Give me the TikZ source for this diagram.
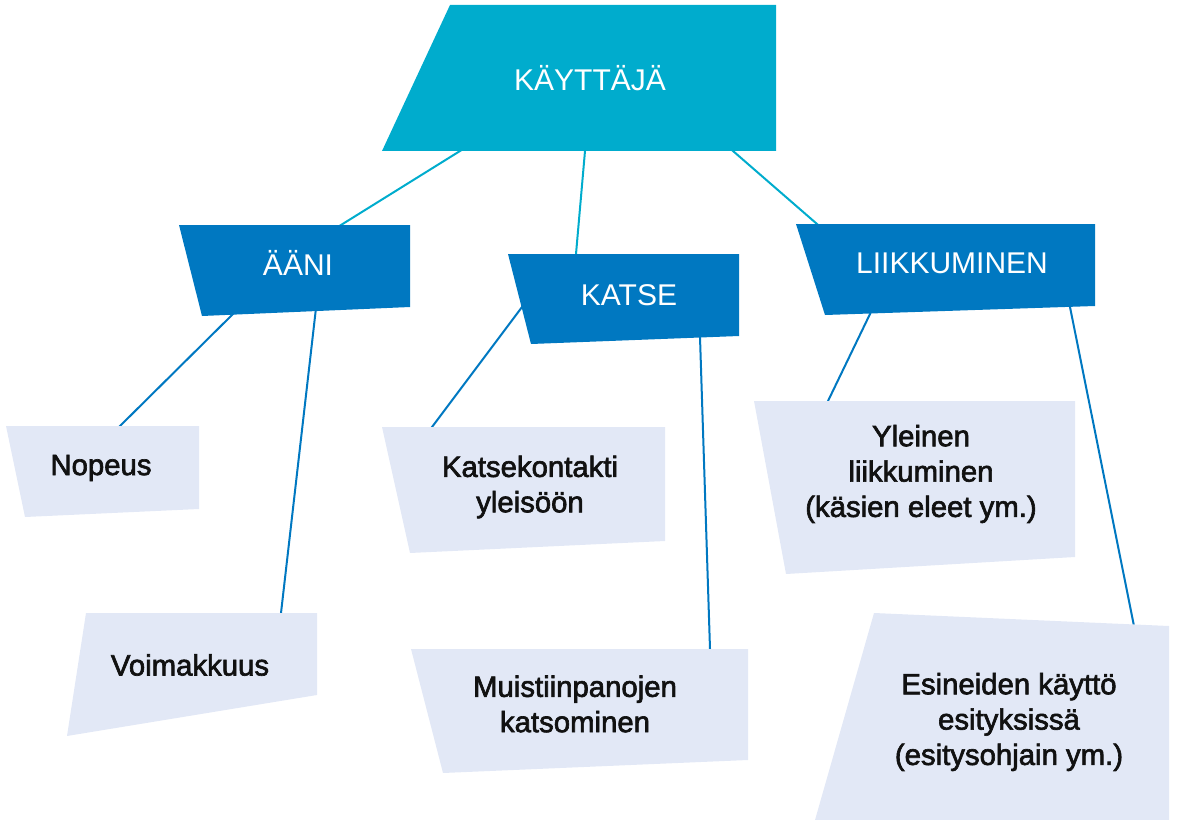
\documentclass[tikz,border=0pt]{standalone}
\usepackage{fontspec}
\setmainfont{Liberation Sans}
\newfontfamily\leaffont{Liberation Sans}[FakeBold=2.2]
\definecolor{topcyan}{HTML}{00ACCD}
\definecolor{midblue}{HTML}{0078C1}
\definecolor{leafbg}{HTML}{E2E8F6}
\definecolor{leafink}{HTML}{111111}
\tikzset{
  headtext/.style={text=white, font=\fontsize{22.5}{26}\selectfont, anchor=base, inner sep=0pt},
  leaftext/.style={text=leafink, font=\leaffont\fontsize{22}{26.5}\selectfont, align=center, inner sep=0pt},
  upperlink/.style={draw=topcyan, line width=1.5pt, shorten <=-2pt, shorten >=-2pt},
  lowerlink/.style={draw=midblue, line width=1.5pt, shorten <=-2pt, shorten >=-2pt},
}
\begin{document}
\begin{tikzpicture}[x=0.75pt,y=-0.75pt]
\useasboundingbox (0,0) rectangle (1178,820);

% connector end points on the box borders
\coordinate (kay-s1) at (460,151);  \coordinate (aan-n) at (341,225);
\coordinate (kay-s2) at (585,151);  \coordinate (kat-n) at (576,254);
\coordinate (kay-s3) at (733,151);  \coordinate (lii-n) at (817,224);
\coordinate (aan-s1) at (234,313);  \coordinate (nop-n) at (120,426);
\coordinate (aan-s2) at (316,308);  \coordinate (voi-n) at (281,613);
\coordinate (kat-s1) at (522,307);  \coordinate (kon-n) at (432,427);
\coordinate (kat-s2) at (700,337);  \coordinate (mui-n) at (710,649);
\coordinate (lii-s1) at (870,314);  \coordinate (yle-n) at (828,401);
\coordinate (lii-s2) at (1070,307); \coordinate (esi-n) at (1134,626);

% connectors
\draw[upperlink] (kay-s1) -- (aan-n);
\draw[upperlink] (kay-s2) -- (kat-n);
\draw[upperlink] (kay-s3) -- (lii-n);
\draw[lowerlink] (aan-s1) -- (nop-n);
\draw[lowerlink] (aan-s2) -- (voi-n);
\draw[lowerlink] (kat-s1) -- (kon-n);
\draw[lowerlink] (kat-s2) -- (mui-n);
\draw[lowerlink] (lii-s1) -- (yle-n);
\draw[lowerlink] (lii-s2) -- (esi-n);

% boxes
\fill[topcyan] (450,5) -- (776,5) -- (776,151) -- (382,151) -- cycle;
\fill[midblue] (179,225) -- (410,225) -- (410,307) -- (202,316) -- cycle;
\fill[midblue] (508,254) -- (739,254) -- (739,336) -- (531,344) -- cycle;
\fill[midblue] (796,224) -- (1095,224) -- (1095,306) -- (825,315) -- cycle;
\fill[leafbg] (6,426) -- (199,426) -- (199,509) -- (25,517) -- cycle;
\fill[leafbg] (86,613) -- (317,613) -- (317,695) -- (67,736) -- cycle;
\fill[leafbg] (382,427) -- (665,427) -- (665,541) -- (410,553) -- cycle;
\fill[leafbg] (411,649) -- (748,649) -- (748,760) -- (443,773) -- cycle;
\fill[leafbg] (754,401) -- (1075,401) -- (1075,557) -- (786,574) -- cycle;
\fill[leafbg] (874,613) -- (1169,626) -- (1169,820) -- (815,820) -- cycle;

% labels
\node[headtext] (kay) at (590,91) {KÄYTTÄJÄ};
\node[headtext] (aan) at (298,275) {ÄÄNI};
\node[headtext] (kat) at (629,305) {KATSE};
\node[headtext] (lii) at (952,273) {LIIKKUMINEN};
\node[leaftext] (nop) at (101,468) {Nopeus};
\node[leaftext] (voi) at (190,665) {Voimakkuus};
\node[leaftext] (kon) at (530,487) {Katsekontakti\\yleisöön};
\node[leaftext] (mui) at (575,704) {Muistiinpanojen\\katsominen};
\node[leaftext] (yle) at (921,474) {Yleinen\\liikkuminen\\(käsien eleet ym.)};
\node[leaftext] (esi) at (1009,722) {Esineiden käyttö\\esityksissä\\(esitysohjain ym.)};
\end{tikzpicture}
\end{document}
